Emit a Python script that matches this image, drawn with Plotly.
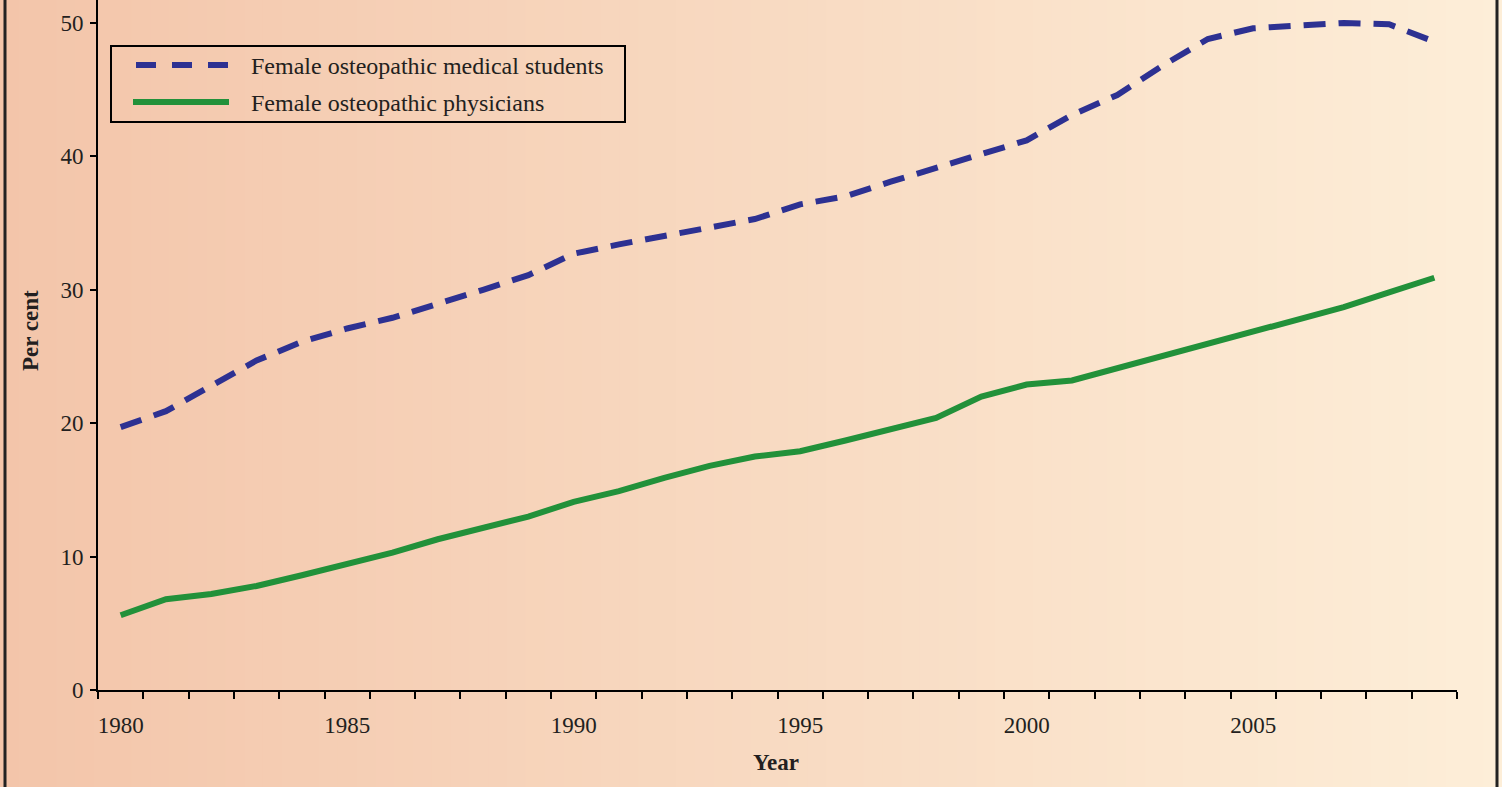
import plotly.graph_objects as go

years = list(range(1980, 2010))
students = [19.7, 20.9, 22.8, 24.7, 26.1, 27.1, 27.9, 28.9, 30.0, 31.1,
            32.7, 33.4, 34.0, 34.7, 35.3, 36.4, 37.0, 38.1, 39.1, 40.2,
            41.2, 43.1, 44.6, 46.8, 48.8, 49.6, 49.85, 50.0, 49.9, 48.6]
physicians = [5.6, 6.8, 7.2, 7.8, 8.6, 9.4, 10.3, 11.3, 12.1, 13.0,
              14.1, 14.9, 15.9, 16.8, 17.5, 17.9, 18.7, 19.6, 20.4, 22.0,
              22.9, 23.2, 24.1, 25.0, 25.9, 26.8, 27.7, 28.7, 29.8, 30.9]
series_names = ["Female osteopathic medical students", "Female osteopathic physicians"]
x_tick_labels = [1980, 1985, 1990, 1995, 2000, 2005]
y_tick_vals = [0, 10, 20, 30, 40, 50]

W, H = 1502, 787
L, R, T, B = 98, 45, 0, 97
PW, PH = W - L - R, H - T - B

def px(x):
    return (x - L) / PW

def py(y):
    return (H - B - y) / PH

BLUE = "rgb(45,49,146)"
GREEN = "rgb(34,145,58)"
TXT = "#231f20"
FONT = "Liberation Serif"

fig = go.Figure()
fig.add_trace(go.Scatter(x=years, y=students, mode="lines", name=series_names[0],
                         line=dict(color=BLUE, width=6, dash="22px,13px"), showlegend=False,
                         hoverinfo="skip"))
fig.add_trace(go.Scatter(x=years, y=physicians, mode="lines", name=series_names[1],
                         line=dict(color=GREEN, width=6), showlegend=False, hoverinfo="skip"))

shapes = []
# gradient background
c0 = (243, 197, 170)
c1 = (253, 238, 216)
n = 80
for i in range(n):
    t = i / (n - 1)
    col = tuple(round(c0[k] + (c1[k] - c0[k]) * t) for k in range(3))
    x0 = W * i / n
    x1 = W * (i + 1) / n + 1
    shapes.append(dict(type="rect", xref="paper", yref="paper",
                       x0=px(x0), x1=px(x1), y0=py(H), y1=py(0),
                       fillcolor="rgb(%d,%d,%d)" % col, line=dict(width=0), layer="below"))
# outer border lines
for bx in (5, 1497):
    shapes.append(dict(type="line", xref="paper", yref="paper", x0=px(bx), x1=px(bx),
                       y0=py(H), y1=py(0), line=dict(color="#222", width=3)))
# legend box
shapes.append(dict(type="rect", xref="paper", yref="paper", x0=px(111), x1=px(625),
                   y0=py(122), y1=py(46), line=dict(color="black", width=2)))
shapes.append(dict(type="line", xref="paper", yref="paper", x0=px(136), x1=px(228),
                   y0=py(65), y1=py(65), line=dict(color=BLUE, width=6, dash="20px,16px")))
shapes.append(dict(type="line", xref="paper", yref="paper", x0=px(133), x1=px(229),
                   y0=py(102), y1=py(102), line=dict(color=GREEN, width=6)))

annotations = [
    dict(text=series_names[0], xref="paper", yref="paper", x=px(249), y=py(66),
         xanchor="left", yanchor="middle", showarrow=False, font=dict(family=FONT, size=24, color=TXT)),
    dict(text=series_names[1], xref="paper", yref="paper", x=px(249), y=py(103),
         xanchor="left", yanchor="middle", showarrow=False, font=dict(family=FONT, size=24, color=TXT)),
    dict(text="<b>Per cent</b>", xref="paper", yref="paper", x=px(30), y=py(331),
         xanchor="center", yanchor="middle", textangle=-90, showarrow=False,
         font=dict(family=FONT, size=23, color=TXT)),
    dict(text="<b>Year</b>", xref="paper", yref="paper", x=px(776), y=py(762),
         xanchor="center", yanchor="middle", showarrow=False,
         font=dict(family=FONT, size=23, color=TXT)),
]

fig.update_layout(
    width=W, height=H,
    margin=dict(l=L, r=R, t=T, b=B),
    paper_bgcolor="rgba(0,0,0,0)", plot_bgcolor="rgba(0,0,0,0)",
    shapes=shapes, annotations=annotations, showlegend=False,
    font=dict(family=FONT, size=22, color=TXT),
)
fig.update_xaxes(range=[1979.5, 2009.5], tickvals=x_tick_labels, ticktext=[str(v) for v in x_tick_labels],
                 ticks="", showgrid=False, zeroline=False, showline=True, linecolor="black", linewidth=2,
                 ticklabelstandoff=13, tickfont=dict(family=FONT, size=23, color=TXT),
                 minor=dict(tickvals=[y - 0.5 for y in years] + [2009.5], ticks="outside", ticklen=7,
                            tickwidth=2, tickcolor="black", showgrid=False))
fig.update_yaxes(range=[0, 51.72], tickvals=y_tick_vals, ticks="outside", ticklen=6, tickwidth=2,
                 tickcolor="black", showgrid=False, zeroline=False, showline=True, linecolor="black",
                 linewidth=2, ticklabelstandoff=2, tickfont=dict(family=FONT, size=23, color=TXT))

fig.write_html("out.html", config={"displayModeBar": False},
               post_script="document.body.style.margin='0';document.body.style.overflow='hidden';")
